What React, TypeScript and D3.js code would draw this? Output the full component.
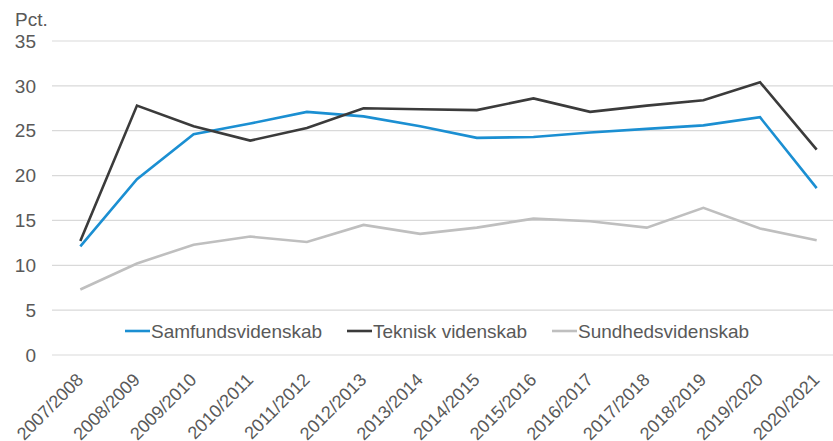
import React from "react";
import * as d3 from "d3";

const years = [
  "2007/2008", "2008/2009", "2009/2010", "2010/2011", "2011/2012", "2012/2013", "2013/2014",
  "2014/2015", "2015/2016", "2016/2017", "2017/2018", "2018/2019", "2019/2020", "2020/2021",
];
const samfund = [12.1, 19.6, 24.6, 25.8, 27.1, 26.6, 25.5, 24.2, 24.3, 24.8, 25.2, 25.6, 26.5, 18.6];
const teknisk = [12.7, 27.8, 25.5, 23.9, 25.3, 27.5, 27.4, 27.3, 28.6, 27.1, 27.8, 28.4, 30.4, 22.9];
const sundhed = [7.3, 10.2, 12.3, 13.2, 12.6, 14.5, 13.5, 14.2, 15.2, 14.9, 14.2, 16.4, 14.1, 12.8];
const yTicks = [0, 5, 10, 15, 20, 25, 30, 35];

const series = [
  { name: "Samfundsvidenskab", values: samfund, color: "#1b8fd2", lx: 125 },
  { name: "Teknisk videnskab", values: teknisk, color: "#3b3b3b", lx: 347 },
  { name: "Sundhedsvidenskab", values: sundhed, color: "#bfbfbf", lx: 552 },
];

const W = 833;
const H = 441;
const font = "'Liberation Sans', Arial, sans-serif";
const textColor = "#595959";

export default function App() {
  const x = d3.scalePoint<string>().domain(years).range([52, 845]).padding(0.5);
  const y = d3.scaleLinear().domain([0, 35]).range([355, 41]);

  const line = d3
    .line<number>()
    .x((d, i) => x(years[i]) as number)
    .y((d) => y(d));

  return (
    <svg
      width={W}
      height={H}
      style={{ position: "absolute", left: 0, top: 0, background: "#fff" }}
      fontFamily={font}
    >
      <text x={15} y={26} fontSize={19} fill={textColor}>
        Pct.
      </text>
      {yTicks.map((t) => (
        <g key={t}>
          <line x1={52} x2={845} y1={y(t)} y2={y(t)} stroke="#d9d9d9" strokeWidth={1.2} />
          <text x={36} y={y(t)} dy="0.35em" textAnchor="end" fontSize={19} fill={textColor}>
            {t}
          </text>
        </g>
      ))}
      {years.map((yr) => (
        <text
          key={yr}
          transform={`translate(${(x(yr) as number) + 4},${381}) rotate(-45)`}
          textAnchor="end"
          fontSize={18}
          fill={textColor}
        >
          {yr}
        </text>
      ))}
      {series.map((s) => (
        <path
          key={s.name}
          d={line(s.values) || ""}
          fill="none"
          stroke={s.color}
          strokeWidth={2.6}
          strokeLinejoin="miter"
        />
      ))}
      {series.map((s) => (
        <g key={s.name + "-leg"}>
          <line x1={s.lx} x2={s.lx + 25} y1={331} y2={331} stroke={s.color} strokeWidth={2.6} />
          <text x={s.lx + 26} y={331} dy="0.35em" fontSize={19} fill={textColor}>
            {s.name}
          </text>
        </g>
      ))}
    </svg>
  );
}
